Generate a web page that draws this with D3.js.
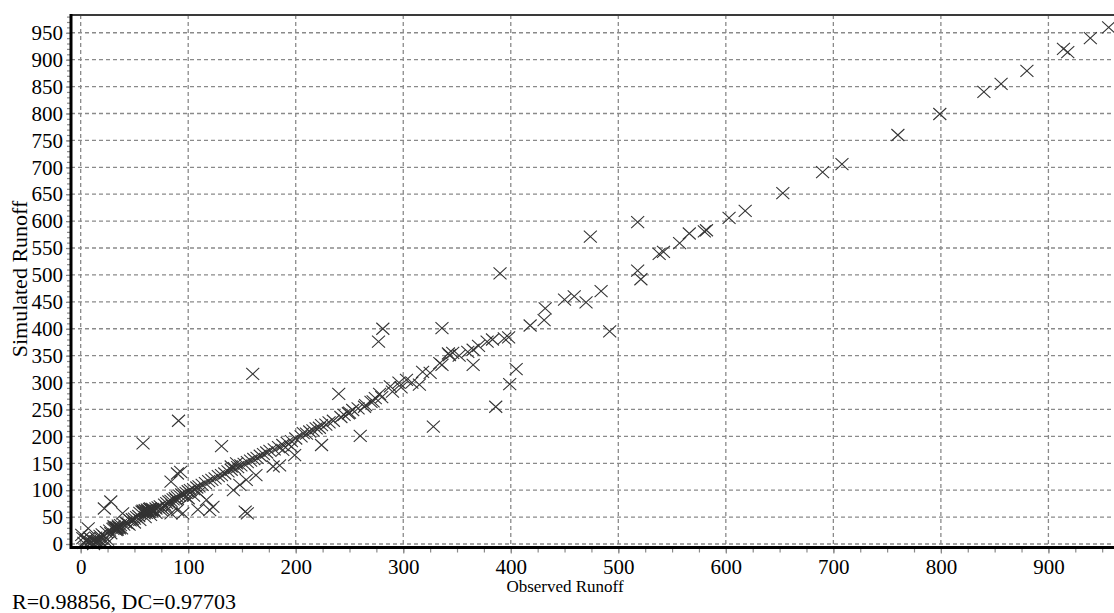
<!DOCTYPE html>
<html>
<head>
<meta charset="utf-8">
<script src="https://cdn.jsdelivr.net/npm/d3@7"></script>
<style>
  body { margin: 0; background: #fff; }
  text { font-family: "Liberation Serif", "Times New Roman", serif; fill: #000; }
</style>
</head>
<body>
<div id="scatter"></div>
<script>
var width = 1114;
var height = 613;

// Observed / simulated runoff pairs (same order in both arrays)
var observed = [
  956, 939, 918, 914, 880, 856, 840, 799, 760, 708,
  690, 653, 618, 603, 582, 580, 566, 557, 542, 538,
  518, 474, 390, 518, 521, 484, 470, 459, 450, 432,
  431, 418, 492, 398, 394, 383, 365, 360, 346, 342,
  343, 336, 334, 365, 318, 315, 303, 405, 399, 386,
  328, 288, 278, 274, 253, 249, 240, 231, 224, 213,
  207, 260, 224, 281, 277, 336, 296, 160, 91, 58,
  131, 245, 219, 199, 185, 153, 155, 90, 93, 84,
  89, 98, 117, 120, 109, 90, 84, 95, 142, 148,
  154, 163, 140, 145, 179, 188, 196, 28, 22, 39,
  7, 1, 17, 5, 2, 123, 264, 270, 10, 12,
  14, 20, 25, 8, 3, 6, 8, 10, 12, 14,
  15, 18, 19, 20, 22, 24, 25, 27, 28, 30,
  31, 33, 34, 35, 36, 37, 38, 40, 42, 44,
  46, 48, 50, 52, 54, 55, 57, 58, 60, 61,
  62, 63, 64, 65, 66, 67, 68, 70, 72, 74,
  76, 78, 80, 82, 84, 86, 88, 90, 92, 94,
  96, 98, 100, 102, 105, 108, 110, 113, 116, 119,
  122, 125, 128, 131, 134, 137, 140, 143, 146, 149,
  152, 155, 158, 161, 164, 167, 170, 173, 176, 180,
  184, 188, 192, 196, 200, 205, 210, 216, 222, 228,
  235, 242, 250, 258, 265, 272, 280, 290, 298, 308,
  325, 352, 370, 378, 45, 50, 55, 60, 65, 70,
  75, 80, 85, 100, 105, 110, 32, 33, 34, 35,
  36, 33, 31, 58, 60, 62, 63, 65, 66, 68,
  64, 59, 16
];

var simulated = [
  960, 940, 914, 920, 879, 855, 840, 799, 760, 706,
  691, 652, 619, 606, 583, 581, 577, 559, 543, 539,
  598, 571, 503, 508, 492, 470, 449, 460, 454, 438,
  416, 406, 395, 384, 382, 380, 361, 357, 355, 354,
  351, 333, 336, 333, 320, 296, 305, 325, 297, 255,
  218, 293, 279, 271, 249, 243, 279, 226, 221, 209,
  206, 201, 184, 400, 376, 401, 300, 316, 229, 187,
  182, 240, 215, 165, 146, 60, 57, 131, 134, 116,
  82, 88, 82, 63, 64, 63, 57, 57, 100, 110,
  119, 128, 144, 150, 144, 175, 181, 79, 66, 57,
  29, 17, 2, 7, 11, 69, 255, 264, 3, 0,
  5, 3, 2, 12, 2, 5, 4, 9, 6, 12,
  4, 15, 10, 18, 14, 22, 8, 25, 20, 28,
  33, 30, 27, 34, 31, 35, 29, 36, 40, 38,
  44, 46, 47, 50, 52, 58, 60, 62, 61, 58,
  64, 62, 60, 66, 63, 65, 62, 66, 68, 70,
  66, 73, 76, 79, 80, 83, 85, 87, 90, 92,
  93, 95, 98, 100, 102, 105, 107, 110, 113, 117,
  119, 122, 126, 128, 131, 135, 138, 141, 143, 146,
  149, 152, 155, 158, 160, 164, 167, 170, 173, 176,
  180, 184, 188, 191, 196, 200, 205, 211, 216, 222,
  229, 236, 244, 252, 258, 265, 273, 283, 291, 300,
  318, 350, 368, 376, 36, 40, 45, 50, 54, 58,
  63, 68, 72, 85, 90, 95, 28, 31, 30, 32,
  29, 26, 30, 60, 63, 61, 59, 64, 61, 63,
  65, 57, 8
];

var xTicks = [0, 100, 200, 300, 400, 500, 600, 700, 800, 900];
var yTicks = [0, 50, 100, 150, 200, 250, 300, 350, 400, 450, 500, 550, 600, 650, 700, 750, 800, 850, 900, 950];
var xMinorTicks = d3.range(0, 961, 25);
var yMinorTicks = d3.range(0, 981, 10);
var xTitle = "Observed Runoff";
var yTitle = "Simulated Runoff";
var statText = "R=0.98856, DC=0.97703";

var plot = { left: 71, right: 1114, top: 15, bottom: 547.5 };

var svg = d3
  .select("#scatter")
  .append("svg")
  .attr("width", width)
  .attr("height", height);

svg.append("rect").attr("width", width).attr("height", height).attr("fill", "#fff");

var x = d3.scaleLinear().domain([-9, 961]).range([plot.left, plot.right]);
var y = d3.scaleLinear().domain([-6.5, 983]).range([plot.bottom, plot.top]);

// dashed grid
var grid = svg.append("g")
  .attr("stroke", "#8a8a8a")
  .attr("stroke-width", 1.3)
  .attr("stroke-dasharray", "4,3");

grid.selectAll("line.gx").data(xTicks).enter()
  .append("line")
  .attr("x1", function (d) { return x(d); })
  .attr("x2", function (d) { return x(d); })
  .attr("y1", plot.top)
  .attr("y2", plot.bottom);

grid.selectAll("line.gy").data(yTicks).enter()
  .append("line")
  .attr("x1", plot.left)
  .attr("x2", plot.right)
  .attr("y1", function (d) { return y(d); })
  .attr("y2", function (d) { return y(d); });

// minor ticks
var xMinor = svg.append("g")
  .attr("transform", "translate(0," + plot.bottom + ")")
  .call(d3.axisBottom(x).tickValues(xMinorTicks).tickSize(5).tickFormat(""));
var yMinor = svg.append("g")
  .attr("transform", "translate(" + plot.left + ",0)")
  .call(d3.axisLeft(y).tickValues(yMinorTicks).tickSize(4).tickFormat(""));
[xMinor, yMinor].forEach(function (g) {
  g.select(".domain").remove();
  g.selectAll("line").attr("stroke", "#8a8a8a").attr("stroke-width", 1.2);
});

// major axes with labels
var xAxis = svg.append("g")
  .attr("transform", "translate(0," + plot.bottom + ")")
  .call(d3.axisBottom(x).tickValues(xTicks).tickSize(6).tickPadding(6));
var yAxis = svg.append("g")
  .attr("transform", "translate(" + plot.left + ",0)")
  .call(d3.axisLeft(y).tickValues(yTicks).tickSize(5).tickPadding(3));
[xAxis, yAxis].forEach(function (g) {
  g.select(".domain").remove();
  g.selectAll("line").attr("stroke", "#8a8a8a").attr("stroke-width", 1.2);
  g.selectAll("text")
    .attr("font-family", "Liberation Serif, Times New Roman, serif")
    .attr("font-size", 21)
    .attr("fill", "#000");
});

// markers
var markers = svg.append("g")
  .attr("stroke", "#333")
  .attr("stroke-width", 1.1)
  .attr("fill", "none");

markers.selectAll("path").data(observed).enter()
  .append("path")
  .attr("transform", function (d, i) {
    return "translate(" + x(d) + "," + y(simulated[i]) + ")";
  })
  .attr("d", "M-6.5,-6L6.5,6M-6.5,6L6.5,-6");

// frame
svg.append("line")
  .attr("x1", plot.left).attr("x2", plot.right)
  .attr("y1", plot.top).attr("y2", plot.top)
  .attr("stroke", "#3a3a3a").attr("stroke-width", 2);
svg.append("line")
  .attr("x1", plot.left).attr("x2", plot.left)
  .attr("y1", plot.top - 1).attr("y2", plot.bottom + 1.5)
  .attr("stroke", "#000").attr("stroke-width", 3);
svg.append("line")
  .attr("x1", plot.left).attr("x2", plot.right)
  .attr("y1", plot.bottom).attr("y2", plot.bottom)
  .attr("stroke", "#000").attr("stroke-width", 3);

// titles
svg.append("text")
  .attr("x", 565)
  .attr("y", 592)
  .attr("text-anchor", "middle")
  .attr("font-size", 17)
  .text(xTitle);

svg.append("text")
  .attr("transform", "translate(27,279)rotate(-90)")
  .attr("text-anchor", "middle")
  .attr("font-size", 22)
  .text(yTitle);

svg.append("text")
  .attr("x", 12)
  .attr("y", 609)
  .attr("font-size", 22)
  .text(statText);
</script>
</body>
</html>
